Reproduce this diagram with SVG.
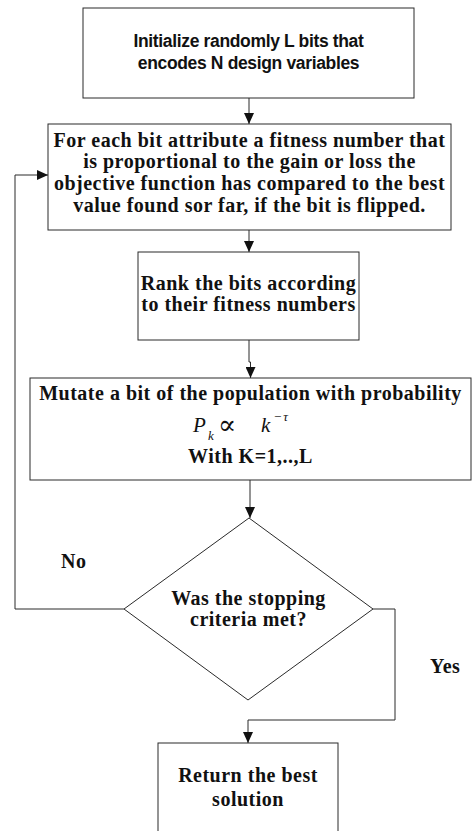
<svg xmlns="http://www.w3.org/2000/svg" width="472" height="831" viewBox="0 0 472 831">
<style>
.box{fill:#fff;stroke:#2a2a2a;stroke-width:1}
.ln{fill:none;stroke:#2a2a2a;stroke-width:1}
.sans{font-family:"Liberation Sans",Arial,sans-serif;font-weight:bold;font-size:17.5px;letter-spacing:-0.35px;fill:#111;text-anchor:middle}
.serif{font-family:"Liberation Serif","Times New Roman",serif;font-weight:bold;font-size:20px;letter-spacing:0.5px;fill:#111;text-anchor:middle}
.math{font-family:"Liberation Serif","Times New Roman",serif;font-style:italic;fill:#111}
</style>
<defs>
<marker id="arr" markerUnits="userSpaceOnUse" markerWidth="12" markerHeight="10" refX="11" refY="5" orient="auto">
<path d="M0,0 L11,5 L0,10 Z" fill="#111"/>
</marker>
</defs>
<g id="connectors">
<path class="ln" d="M249,98 V124" marker-end="url(#arr)"/>
<path class="ln" d="M249,230 V252" marker-end="url(#arr)"/>
<path class="ln" d="M249,340 V362 H250.5 V378" marker-end="url(#arr)"/>
<path class="ln" d="M250,480 V518" marker-end="url(#arr)"/>
<path class="ln" d="M124,609 H15 V175 H48" marker-end="url(#arr)"/>
<path class="ln" d="M373,609 H395 V720 H248 V743" marker-end="url(#arr)"/>
</g>
<g id="n1">
<rect class="box" x="83" y="8" width="331" height="90"/>
<text class="sans" x="248.5" y="47">Initialize randomly L bits that</text>
<text class="sans" x="248.5" y="69">encodes N design variables</text>
</g>
<g id="n2">
<rect class="box" x="48" y="124" width="403" height="106"/>
<text class="serif" x="249.5" y="146.7">For each bit attribute a fitness number that</text>
<text class="serif" x="249.5" y="168.3">is proportional to the gain or loss the</text>
<text class="serif" x="249.5" y="190">objective function has compared to the best</text>
<text class="serif" x="249.5" y="212">value found sor far, if the bit is flipped.</text>
</g>
<g id="n3">
<rect class="box" x="138" y="252" width="221" height="88"/>
<text class="serif" x="248.5" y="290">Rank the bits according</text>
<text class="serif" x="248.5" y="311">to their fitness numbers</text>
</g>
<g id="n4">
<rect class="box" x="30" y="378" width="441" height="102"/>
<text class="serif" x="250.5" y="400">Mutate a bit of the population with probability</text>
<text class="math" x="193" y="432" font-size="21">P</text>
<text class="math" x="208" y="440" font-size="13">k</text>
<text x="218" y="434" font-size="27" font-family="'DejaVu Serif',serif" fill="#111">∝</text>
<text class="math" x="261" y="432" font-size="21">k</text>
<text x="274" y="421" font-size="13" font-family="'Liberation Serif','DejaVu Serif',serif" fill="#111">−<tspan font-style="italic" dx="2">τ</tspan></text>
<text class="serif" x="250.5" y="463">With K=1,..,L</text>
</g>
<g id="n5">
<path class="box" d="M249,518 L373,609 L248,700 L124,609 Z"/>
<text class="serif" x="248.5" y="605">Was the stopping</text>
<text class="serif" x="248.5" y="626">criteria met?</text>
</g>
<g id="n6">
<rect class="box" x="158" y="743" width="180" height="100"/>
<text class="serif" x="248" y="782">Return the best</text>
<text class="serif" x="248" y="806">solution</text>
</g>
<g id="labels">
<text class="serif" x="61" y="568" style="text-anchor:start">No</text>
<text class="serif" x="430" y="673" style="text-anchor:start">Yes</text>
</g>
</svg>
